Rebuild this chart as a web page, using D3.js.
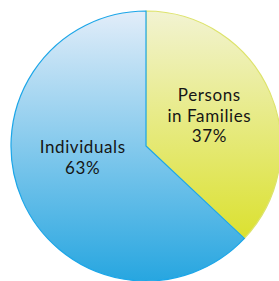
<!DOCTYPE html>
<html>
<head>
<meta charset="utf-8">
<script src="https://cdn.jsdelivr.net/npm/d3@7"></script>
<style>
body{margin:0;background:#fff}
text{font-family:Lato,"Noto Sans",sans-serif;fill:#151515}
</style>
</head>
<body>
<div id="chart"></div>
<script>
var categories = ["Persons in Families","Individuals"]
var labelLines = [["Persons","in Families","37%"],["Individuals","63%"]]
var values = [37,63]

var w = 279
var h = 281
var cx = 146
var cy = 146
var radius = 135

// gradient stops per slice: top colour, bottom colour, outline
var fills = [
	{top:"#f2f3d2",bottom:"#dbe130",stroke:"#dde36c"},
	{top:"#e2edf9",bottom:"#27a6e0",stroke:"#1ca6e8"}
]
// small nudges so labels sit where the original has them
var labelShift = [[0,-3],[0,-16]]

var svg = d3.select("#chart").append("svg").attr("width",w).attr("height",h)

var defs = svg.append("defs")
fills.forEach(function(f,i){
	var g = defs.append("linearGradient").attr("id","grad"+i)
		.attr("x1",0).attr("y1",0).attr("x2",0).attr("y2",1)
	g.append("stop").attr("offset","0%").attr("stop-color",f.top)
	g.append("stop").attr("offset","100%").attr("stop-color",f.bottom)
})

var pie = d3.pie().sort(null).value(function(d){return d})
var arc = d3.arc().innerRadius(0).outerRadius(radius)
var labelArc = d3.arc().innerRadius(69).outerRadius(69)

var g = svg.append("g").attr("transform","translate("+cx+","+cy+")")

var slices = pie(values)

g.selectAll(".slice")
	.data(slices)
	.enter()
	.append("path")
	.attr("class","slice")
	.attr("d",arc)
	.attr("fill",function(d,i){return "url(#grad"+i+")"})
	.attr("stroke",function(d,i){return fills[i].stroke})
	.attr("stroke-width",1.2)

slices.forEach(function(d,i){
	var c = labelArc.centroid(d)
	var lines = labelLines[i]
	var lh = 20.5
	var t = g.append("text")
		.attr("text-anchor","middle")
		.style("font-size","17px")
		.style("letter-spacing","0.6px")
		.attr("x",c[0]+labelShift[i][0])
		.attr("y",c[1]+labelShift[i][1]-(lines.length-1)*lh/2+6)
	lines.forEach(function(l,j){
		t.append("tspan")
			.attr("x",c[0]+labelShift[i][0])
			.attr("dy",j==0?0:lh)
			.text(l)
	})
})
</script>
</body>
</html>
